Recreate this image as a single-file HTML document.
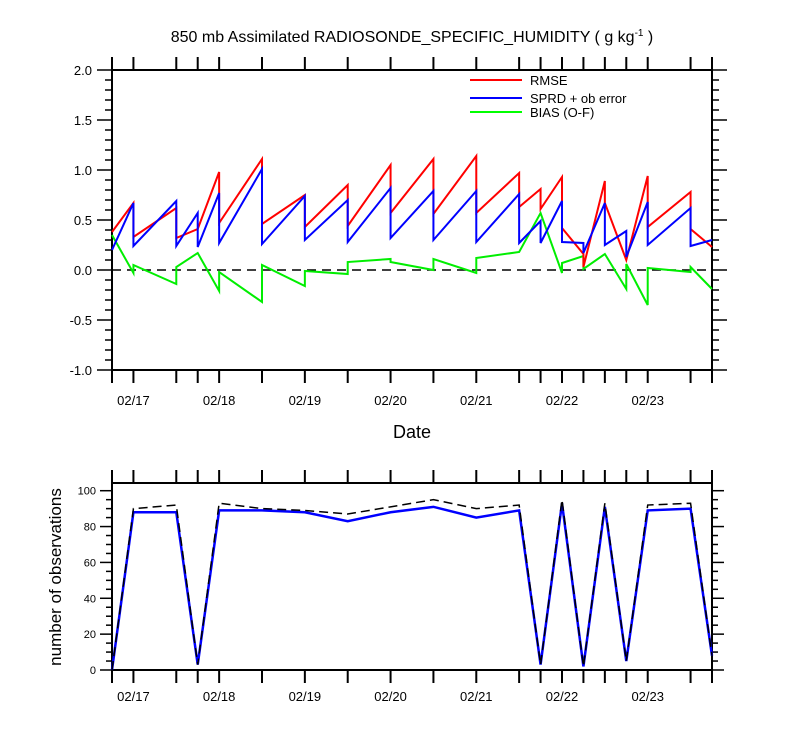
<!DOCTYPE html>
<html><head><meta charset="utf-8"><style>
body{margin:0;background:#fff;}
svg{display:block;font-family:"Liberation Sans",sans-serif;}
</style></head><body>
<svg id="chart" width="800" height="750" viewBox="0 0 800 750">
<text x="412" y="42" text-anchor="middle" font-size="16">850 mb Assimilated RADIOSONDE_SPECIFIC_HUMIDITY ( g kg<tspan dy="-6" font-size="10">-1</tspan><tspan dy="6"> )</tspan></text>
<g id="topPanel"></g>
<g id="botPanel"></g>
<text x="412" y="438" text-anchor="middle" font-size="18">Date</text>
<text transform="translate(61,577) rotate(-90)" text-anchor="middle" font-size="17">number of observations</text>
<g>
<line x1="470" y1="80" x2="522" y2="80" stroke="#f00" stroke-width="2"/>
<text x="530" y="85" font-size="13">RMSE</text>
<line x1="470" y1="98" x2="522" y2="98" stroke="#00f" stroke-width="2"/>
<text x="530" y="103" font-size="13">SPRD + ob error</text>
<line x1="470" y1="112" x2="522" y2="112" stroke="#0f0" stroke-width="2"/>
<text x="530" y="117" font-size="13">BIAS (O-F)</text>
</g>
</svg>
<script>
// segment break times (days since 02/17 00Z)
const times = [-0.25,0,0.5,0.75,1,1.5,2,2.5,3,3.5,4,4.5,4.75,5,5.25,5.5,5.75,6,6.5,6.75];
const dayLabels = ["02/17","02/18","02/19","02/20","02/21","02/22","02/23"];
const rmseStart = [0.38,0.33,0.32,0.41,0.47,0.46,0.43,0.44,0.57,0.56,0.57,0.63,0.61,0.42,0.03,0.67,0.10,0.43,0.41];
const rmseEnd   = [0.67,0.62,0.41,0.98,1.11,0.75,0.85,1.05,1.11,1.14,0.97,0.81,0.93,0.16,0.89,0.10,0.94,0.78,0.23];
const sprdStart = [0.20,0.24,0.24,0.23,0.27,0.26,0.30,0.28,0.32,0.30,0.28,0.27,0.27,0.28,0.17,0.25,0.13,0.25,0.24];
const sprdEnd   = [0.67,0.69,0.57,0.77,1.01,0.74,0.70,0.82,0.79,0.79,0.76,0.49,0.69,0.27,0.67,0.39,0.68,0.62,0.30];
const biasStart = [0.35,0.05,0.03,0.17,-0.02,0.05,-0.01,0.08,0.08,0.11,0.12,0.18,0.57,0.07,0.01,0.16,0.06,0.02,0.03];
const biasEnd   = [-0.03,-0.14,0.17,-0.21,-0.32,-0.16,-0.04,0.11,0.00,-0.03,0.18,0.57,-0.03,0.14,0.16,-0.19,-0.35,-0.02,-0.19];
const nobsUsed  = [0,88,88,3,89,89,88,83,88,91,85,89,3,93,2,91,5,89,90,8];
const nobsTotal = [0,90,92,3,93,90,89,87,91,95,90,92,3,95,2,93,5,92,93,8];
const topTicks = ["2.0","1.5","1.0","0.5","0.0","-0.5","-1.0"];
const botTicks = ["0","20","40","60","80","100"];

const NS="http://www.w3.org/2000/svg";
function mk(parent,tag,attrs){const e=document.createElementNS(NS,tag);for(const k in attrs)e.setAttribute(k,attrs[k]);parent.appendChild(e);return e;}
const X0=112,X1=712,T0=-0.25,T1=6.75;
const xs=t=>X0+(t-T0)/(T1-T0)*(X1-X0);
const ty=v=>270-v*100;
const by=v=>670-v*1.793;
const topG=document.getElementById('topPanel'), botG=document.getElementById('botPanel');

function frame(g,yTop,yBot,name,lblOff){
  const r=mk(g,'rect',{x:X0,y:yTop,width:X1-X0,height:yBot-yTop,fill:'none',stroke:'#000','stroke-width':2});
  
  
  times.forEach(t=>{
    const x=xs(t);
    const a=mk(g,'line',{x1:x,y1:yTop,x2:x,y2:yTop-13,stroke:'#000','stroke-width':2});
    
    
    const b=mk(g,'line',{x1:x,y1:yBot,x2:x,y2:yBot+13,stroke:'#000','stroke-width':2});
    
    
  });
  dayLabels.forEach((l,i)=>{
    const tx=mk(g,'text',{x:xs(i),y:yBot+lblOff,'text-anchor':'middle','font-size':13});
    tx.textContent=l;
    
    
  });
}
frame(topG,70,370,'top',35);
frame(botG,483,670,'bottom',31);

for(let k=-10;k<=20;k++){
  const v=k/10;const major=(k%5)===0;const L=major?15:7;const y=ty(v);
  const l=mk(topG,'line',{x1:X0,y1:y,x2:X0-L,y2:y,stroke:'#000','stroke-width':1.5});
  
  
  const r=mk(topG,'line',{x1:X1,y1:y,x2:X1+L,y2:y,stroke:'#000','stroke-width':1.5});
  
  
}
topTicks.forEach(s=>{
  const tx=mk(topG,'text',{x:X0-20,y:ty(parseFloat(s))+5,'text-anchor':'end','font-size':13});
  tx.textContent=s;
  
  
});
for(let v=0;v<=100;v+=5){
  const major=v%20===0;const L=major?12:6;const y=by(v);
  const l=mk(botG,'line',{x1:X0,y1:y,x2:X0-L,y2:y,stroke:'#000','stroke-width':1.5});
  
  
  const r=mk(botG,'line',{x1:X1,y1:y,x2:X1+L,y2:y,stroke:'#000','stroke-width':1.5});
  
  
}
botTicks.forEach(s=>{
  const tx=mk(botG,'text',{x:X0-16,y:by(+s)+4,'text-anchor':'end','font-size':11});
  tx.textContent=s;
  
  
});

const z=mk(topG,'line',{x1:X0,y1:ty(0),x2:X1,y2:ty(0),stroke:'#000','stroke-width':1.5,'stroke-dasharray':'9,6'});



function saw(st,en,color,name){
  let d='';
  for(let i=0;i<st.length;i++){
    d+=(i?'L':'M')+xs(times[i])+','+ty(st[i])+'L'+xs(times[i+1])+','+ty(en[i]);
  }
  const p=mk(topG,'path',{d:d,fill:'none',stroke:color,'stroke-width':2});
  
  
}
saw(biasStart,biasEnd,'#00ee00','bias-line');
saw(rmseStart,rmseEnd,'#ff0000','rmse-line');
saw(sprdStart,sprdEnd,'#0000ff','sprd-line');

function nline(vals,color,dash,name,w){
  const d=vals.map((v,i)=>(i?'L':'M')+xs(times[i])+','+by(v)).join('');
  const p=mk(botG,'path',{d:d,fill:'none',stroke:color,'stroke-width':w});
  if(dash)p.setAttribute('stroke-dasharray',dash);
  
  
}
nline(nobsUsed,'#0000ff',null,'obs-used-line',2.5);
nline(nobsTotal,'#000',"9,5",'obs-total-line',1.5);
</script>
</body></html>
